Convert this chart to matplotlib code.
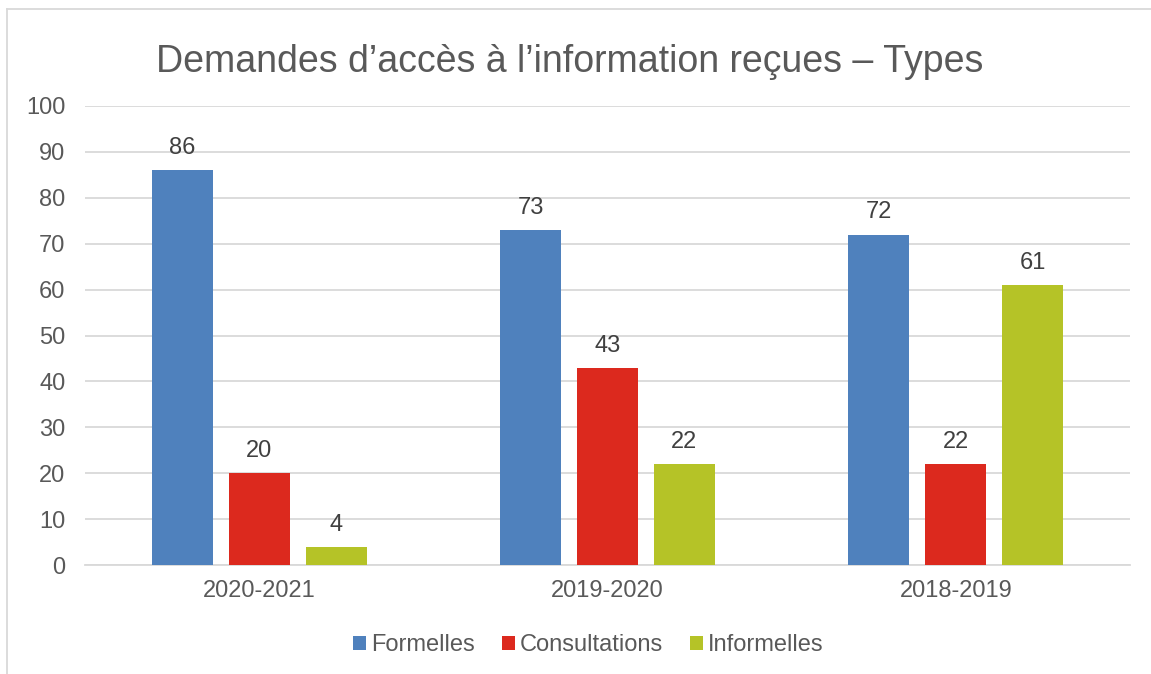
import matplotlib
matplotlib.use("Agg")
import matplotlib.pyplot as plt
from matplotlib.lines import Line2D
from matplotlib.patches import Patch
import numpy as np

categories = ["2020-2021", "2019-2020", "2018-2019"]
series_names = ["Formelles", "Consultations", "Informelles"]
formelles = [86, 73, 72]
consultations = [20, 43, 22]
informelles = [4, 22, 61]
yticks = [0, 10, 20, 30, 40, 50, 60, 70, 80, 90, 100]
title = "Demandes d\u2019acc\u00e8s \u00e0 l\u2019information re\u00e7ues \u2013 Types"

colors = ["#4F81BD", "#DC291E", "#B5C327"]
text_color = "#595959"

plt.rcParams['font.family'] = ['Liberation Sans', 'DejaVu Sans']

W, H = 1151, 674
fig = plt.figure(figsize=(W / 100, H / 100), dpi=100)
ax = fig.add_axes([85 / W, 1 - 565 / H, (1130 - 85) / W, (565 - 106) / H])

x = np.arange(len(categories))
width = 0.175
offset = 0.221
all_series = [formelles, consultations, informelles]
for i, (vals, name, c) in enumerate(zip(all_series, series_names, colors)):
    pos = x + (i - 1) * offset
    bars = ax.bar(pos, vals, width=width, color=c, label=name, zorder=3)
    for b, v in zip(bars, vals):
        ax.annotate(str(v), (b.get_x() + b.get_width() / 2, v),
                    xytext=(0, 8), textcoords="offset points",
                    ha="center", va="bottom", fontsize=17, color="#404040")

ax.set_xlim(-0.5, len(categories) - 0.5)
ax.set_ylim(0, 100)
ax.set_yticks(yticks)
ax.set_xticks(x)
ax.set_xticklabels(categories)
ax.grid(axis="y", color="#d9d9d9", linewidth=1.3, zorder=0)
ax.set_axisbelow(True)
for s in ["top", "right", "left"]:
    ax.spines[s].set_visible(False)
ax.spines["bottom"].set_color("#d9d9d9")
ax.spines["bottom"].set_linewidth(1.3)
ax.tick_params(axis="both", length=0, labelsize=17, colors=text_color)
ax.tick_params(axis="y", pad=14)
ax.tick_params(axis="x", pad=11)

fig.text(570 / W, 1 - 62 / H, title, ha="center", va="center",
         fontsize=27, color=text_color)

handles = [Patch(facecolor=c, label=n) for c, n in zip(colors, series_names)]
fig.legend(handles=handles, loc="center", bbox_to_anchor=(588 / W, 1 - 645 / H),
           ncol=3, frameon=False, fontsize=17, handlelength=0.55, handleheight=0.55,
           handletextpad=0.2, columnspacing=1.15, labelcolor=text_color)

# chart border (top and left visible)
fig.add_artist(Line2D([7 / W, 7 / W], [0, 1 - 9 / H], transform=fig.transFigure,
                      color="#d9d9d9", linewidth=1.3))
fig.add_artist(Line2D([7 / W, 1], [1 - 9 / H, 1 - 9 / H], transform=fig.transFigure,
                      color="#d9d9d9", linewidth=1.3))

fig.savefig("out.png", dpi=100)
